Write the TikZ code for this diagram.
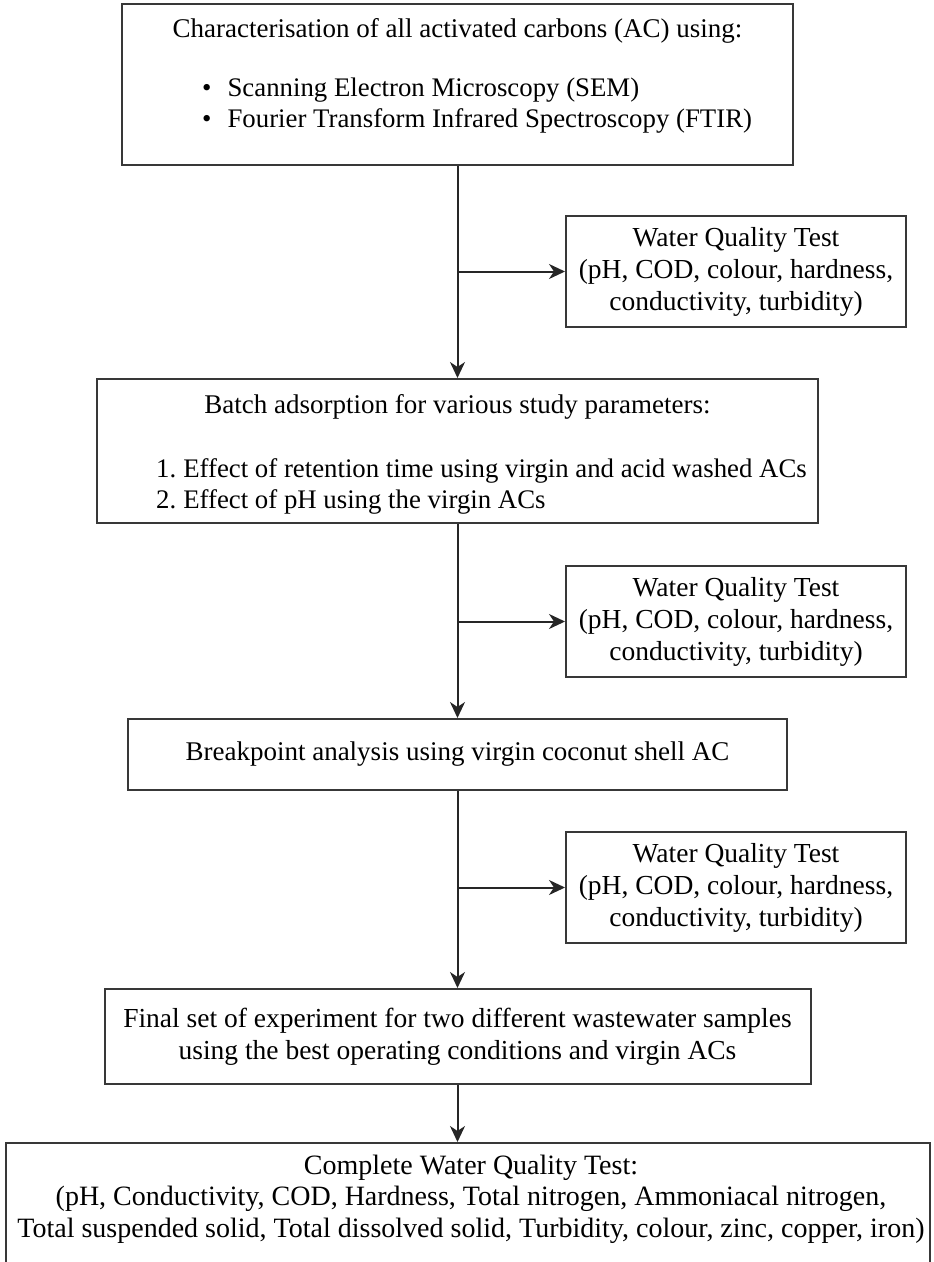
\documentclass[tikz,border=0pt]{standalone}
\usepackage{fontspec}
\setmainfont{Liberation Serif}
\usetikzlibrary{arrows.meta}
\begin{document}
\begin{tikzpicture}[x=1pt,y=-1pt,
  box/.style={draw=black!78, line width=2pt, fill=white, inner sep=0pt},
  txt/.style={font=\fontsize{27}{32}\selectfont, inner sep=0pt, align=center, text height=18pt, text depth=6pt},
  mtxt/.style={font=\fontsize{27.5}{32}\selectfont, inner sep=0pt, align=center},
  ltxt/.style={font=\fontsize{26.8}{32}\selectfont, inner sep=0pt, anchor=west, text height=18pt, text depth=6pt},
  arr/.style={draw=black!85, line width=2pt, -{Stealth[length=16pt,width=15pt,inset=5pt]}},
]
\useasboundingbox (0,0) rectangle (934,1262);
% main boxes
\node[box, minimum width=671pt, minimum height=161pt] (b1) at (457.5,84.5) {};
\node[box, minimum width=721pt, minimum height=144pt] (b2) at (457.5,451) {};
\node[box, minimum width=659pt, minimum height=71pt] (b3) at (457.5,754.5) {};
\node[box, minimum width=706pt, minimum height=95pt] (b4) at (457.5,1036.5) {};
\node[box, minimum width=924pt, minimum height=130pt] (b5) at (468,1208) {};
% side boxes
\node[box, minimum width=340pt, minimum height=111pt, mtxt] (s1) at (736,271.5) {Water Quality Test\\(pH, COD, colour, hardness,\\conductivity, turbidity)};
\node[box, minimum width=340pt, minimum height=111pt, mtxt] (s2) at (736,621.5) {Water Quality Test\\(pH, COD, colour, hardness,\\conductivity, turbidity)};
\node[box, minimum width=340pt, minimum height=111pt, mtxt] (s3) at (736,887.5) {Water Quality Test\\(pH, COD, colour, hardness,\\conductivity, turbidity)};
% texts
\node[txt] (t1) at (457.5,31) {Characterisation of all activated carbons (AC) using:};
\node[ltxt] (t1a) at (202,90) {\textbullet\hspace{16pt}Scanning Electron Microscopy (SEM)};
\node[ltxt] (t1b) at (202,121) {\textbullet\hspace{16pt}Fourier Transform Infrared Spectroscopy (FTIR)};
\node[txt] (t2) at (457.5,407) {Batch adsorption for various study parameters:};
\node[ltxt] (t2a) at (156,471) {1.\hspace{7pt}Effect of retention time using virgin and acid washed ACs};
\node[ltxt] (t2b) at (156,502) {2.\hspace{7pt}Effect of pH using the virgin ACs};
\node[txt] (t3) at (b3.center) {Breakpoint analysis using virgin coconut shell AC};
\node[mtxt] (t4) at (b4.center) {Final set of experiment for two different wastewater samples\\using the best operating conditions and virgin ACs};
\node[mtxt, font=\fontsize{28}{31.5}\selectfont] (t5) at (471,1199) {Complete Water Quality Test:\\(pH, Conductivity, COD, Hardness, Total nitrogen, Ammoniacal nitrogen,\\Total suspended solid, Total dissolved solid, Turbidity, colour, zinc, copper, iron)};
% junctions
\coordinate (j1) at (b1.south |- s1.west);
\coordinate (j2) at (b2.south |- s2.west);
\coordinate (j3) at (b3.south |- s3.west);
\coordinate (e5) at (b4.south |- b5.north);
% connectors
\draw[arr] (b1.south) -- (b2.north);
\draw[arr] (b2.south) -- (b3.north);
\draw[arr] (b3.south) -- (b4.north);
\draw[arr] (b4.south) -- (e5);
\draw[arr] (j1) -- (s1.west);
\draw[arr] (j2) -- (s2.west);
\draw[arr] (j3) -- (s3.west);
\end{tikzpicture}
\end{document}
